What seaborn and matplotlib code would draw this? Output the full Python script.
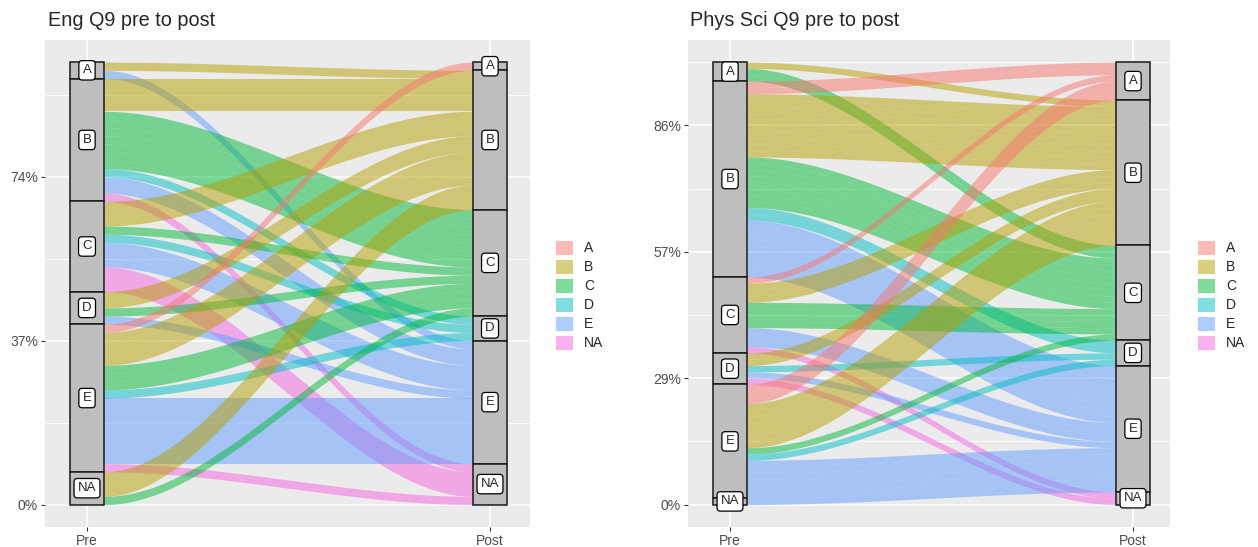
import matplotlib

matplotlib.use("Agg")
import matplotlib.pyplot as plt
import numpy as np
import seaborn as sns
from matplotlib.patches import Patch

# 选项与坐标轴
levels = ["A", "B", "C", "D", "E", "NA"]
stages = ["Pre", "Post"]
palette = ["#F8766D", "#B79F00", "#00BA38", "#00BFC4", "#619CFF", "#F564E3"]

# 行 = Pre 选项, 列 = Post 选项 (半人单位)
eng_flows = [
    [0, 1, 0, 0, 1, 0],
    [0, 4, 7, 1, 2, 1],
    [0, 3, 1, 1, 3, 3],
    [0, 2, 1, 0, 1, 0],
    [1, 4, 3, 1, 8, 1],
    [0, 3, 1, 0, 0, 0],
]
phys_flows = [
    [0, 1, 2, 0, 0, 0],
    [2, 10, 8, 2, 9, 0],
    [1, 3, 4, 0, 3, 1],
    [0, 2, 0, 1, 1, 1],
    [3, 7, 1, 1, 6, 0],
    [0, 0, 0, 0, 1, 0],
]
eng_breaks = [0, 20, 40]
eng_labels = ["0%", "37%", "74%"]
phys_breaks = [0, 20, 40, 60, 80]
phys_labels = ["0%", "29%", "57%", "86%", ""]

sns.set_theme(style="darkgrid")
plt.rcParams["font.family"] = ["Liberation Sans", "DejaVu Sans"]

W, H = 1258, 547
fig = plt.figure(figsize=(W / 100, H / 100), dpi=100)

half_w = 0.042


def draw_alluvial(ax, flows, breaks, labels, xpad):
    m = np.array(flows)
    n = m.sum()
    pre_tot = m.sum(axis=1)
    post_tot = m.sum(axis=0)
    pre_top = n - np.concatenate([[0], np.cumsum(pre_tot)[:-1]])
    post_top = n - np.concatenate([[0], np.cumsum(post_tot)[:-1]])

    x0, x1 = 1 + half_w, 2 - half_w
    t = np.linspace(0, 1, 120)
    s = 3 * t**2 - 2 * t**3
    xs = x0 + (x1 - x0) * t

    for i in range(len(levels)):
        for j in range(len(levels)):
            k = m[i, j]
            if k == 0:
                continue
            a = pre_top[i] - m[i, :j].sum()
            b = post_top[j] - m[:i, j].sum()
            for u in range(k):
                ya = a - u
                yb = b - u
                upper = ya + (yb - ya) * s
                ax.fill_between(xs, upper - 1, upper, color=palette[j], alpha=0.5, lw=0, zorder=2)

    # 层 (strata)
    for pos, tops, tots in [(1, pre_top, pre_tot), (2, post_top, post_tot)]:
        for lv, top, tot in zip(levels, tops, tots):
            if tot == 0:
                continue
            ax.bar(pos, tot, bottom=top - tot, width=2 * half_w, color="#BEBEBE",
                   edgecolor="#1A1A1A", linewidth=1.1, zorder=3)
            ax.text(pos, top - tot / 2, lv, ha="center", va="center", fontsize=9.5, zorder=4,
                    bbox=dict(boxstyle="round,pad=0.28,rounding_size=0.25", fc="white", ec="black", lw=0.9))

    ax.set_xlim(1 - xpad[0], 2 + xpad[1])
    ax.set_ylim(-0.05 * n, 1.05 * n)
    ax.set_xticks([1, 2])
    ax.set_xticklabels(stages)
    ax.set_yticks(breaks)
    ax.set_yticklabels(labels)
    ax.set_yticks([b + 10 for b in breaks], minor=True)
    ax.set_facecolor("#EBEBEB")
    ax.grid(which="major", color="white", lw=1.2, zorder=0)
    ax.grid(which="minor", axis="y", color="white", lw=0.6, zorder=0)
    ax.set_axisbelow(True)
    for sp in ax.spines.values():
        sp.set_visible(False)
    ax.tick_params(axis="both", which="major", length=3, width=0.8, color="#333333",
                   labelcolor="#4D4D4D", labelsize=10, pad=2, left=True, bottom=True)
    ax.tick_params(axis="y", which="minor", length=0)
    ax.set_ylim(-0.05 * n, 1.05 * n)


ax1 = fig.add_axes([45 / W, 20.3 / H, 485 / W, 486.7 / H])
ax2 = fig.add_axes([688 / W, 20.3 / H, 482 / W, 486.7 / H])

draw_alluvial(ax1, eng_flows, eng_breaks, eng_labels, (42 / 403, 40 / 403))
draw_alluvial(ax2, phys_flows, phys_breaks, phys_labels, (42 / 403, 37 / 403))

fig.text(48 / W, 1 - 20 / H, "Eng Q9 pre to post", fontsize=14.3, ha="left", va="center")
fig.text(690 / W, 1 - 20 / H, "Phys Sci Q9 pre to post", fontsize=14.3, ha="left", va="center")

handles = [Patch(facecolor=c, alpha=0.5, edgecolor="none") for c in palette]
for lx in (556, 1198):
    fig.legend(handles, levels, loc="center left", bbox_to_anchor=(lx / W, 1 - 295.5 / H),
               frameon=False, fontsize=10, handlelength=1.2, handleheight=1.2,
               labelspacing=0.3, handletextpad=0.8, borderpad=0, borderaxespad=0)

fig.savefig("out.png", dpi=100)
